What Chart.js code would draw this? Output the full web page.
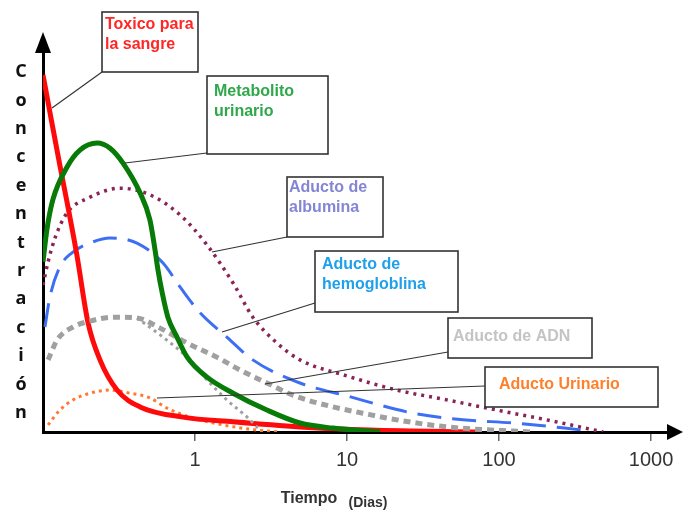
<!DOCTYPE html>
<html>
<head>
<meta charset="utf-8">
<script src="https://cdn.jsdelivr.net/npm/chart.js@4"></script>
<style>
html, body { margin: 0; padding: 0; background: #fff; }
</style>
</head>
<body>
<canvas id="curvasChart" width="683" height="512"></canvas>
<script>
// eje X logaritmico (dias)
var tickDias = [1, 10, 100, 1000];

// Toxico para la sangre
var toxicoX = [0.1, 0.111, 0.129, 0.146, 0.167, 0.198, 0.237, 0.307, 0.435, 0.833, 1.78, 4.9, 14.1, 75];
var toxicoY = [91.1, 81.6, 68.1, 57.4, 45.2, 27.8, 18.4, 10.7, 6.4, 3.8, 2.6, 1.3, 0.5, 0];

// Metabolito urinario
var metabolitoX = [0.1, 0.106, 0.116, 0.144, 0.175, 0.227, 0.276, 0.336, 0.435, 0.505, 0.546, 0.571, 0.607, 0.663, 0.761, 0.888, 1.20, 1.78, 2.97, 4.9, 8.08, 16.5];
var metabolitoY = [43.4, 51.5, 59.2, 67.6, 71.9, 73.7, 72.4, 68.6, 61.0, 54.1, 46.4, 41.3, 35.7, 29.3, 24.2, 19.1, 14.0, 9.9, 5.6, 2.3, 1.0, 0];

// Aducto de albumina
var albuminaX = [0.1, 0.108, 0.12, 0.144, 0.204, 0.321, 0.505, 0.797, 1.20, 1.78, 2.40, 3.46, 4.9, 10, 21.3, 45.3, 96.6, 206, 485];
var albuminaY = [37.5, 43.4, 49.5, 55.9, 59.9, 62.2, 60.5, 55.4, 47.7, 38.0, 29.3, 22.7, 18.4, 14.3, 10.7, 8.2, 5.6, 3.1, 0];

// Aducto de hemoglobina
var hemoX = [0.103, 0.111, 0.129, 0.155, 0.213, 0.276, 0.415, 0.616, 0.797, 1.08, 1.62, 2.40, 4.9, 10, 27.2, 58, 124, 395];
var hemoY = [26.8, 34.4, 42.1, 45.7, 48.5, 49.5, 48.2, 43.1, 37.0, 30.4, 24.2, 18.4, 12.5, 9.2, 4.8, 3.1, 2.3, 0.3];

// Aducto de ADN (dos trazos grises)
var adnX = [0.108, 0.124, 0.158, 0.204, 0.289, 0.415, 0.589, 0.888, 1.39, 1.98, 2.97, 4.40, 8.08, 12.7, 21.3, 45.3, 160];
var adnY = [18.4, 23.5, 26.8, 28.3, 29.3, 29.1, 26.5, 22.7, 19.1, 15.8, 12.5, 9.4, 6.4, 4.8, 3.1, 1.3, 0];
var adn2X = [0.415, 0.616, 0.927, 1.20, 1.62, 2.20, 2.68];
var adn2Y = [29.1, 24.2, 18.4, 13.3, 8.2, 3.8, 0.5];

// Aducto urinario
var urinarioX = [0.108, 0.129, 0.158, 0.204, 0.276, 0.373, 0.505, 0.654, 0.927, 1.53, 2.55, 3.63];
var urinarioY = [1.8, 5.6, 8.2, 9.9, 10.7, 9.9, 8.7, 6.1, 3.8, 1.8, 0.5, 0];

function puntos(xs, ys) {
	return xs.map(function (x, i) { return { x: x, y: ys[i] }; });
}

function serie(xs, ys, color, ancho, dash) {
	return {
		data: puntos(xs, ys),
		borderColor: color,
		borderWidth: ancho,
		borderDash: dash || [],
		pointRadius: 0,
		cubicInterpolationMode: 'monotone',
		fill: false
	};
}

// cuadros de texto con su linea de referencia
var notas = [
	{ box: [102, 12, 96, 60], lineas: ['Toxico para', 'la sangre'], color: '#ff2626', tx: 105, ty: [25, 45], desde: [102, 72], hasta: [52, 108] },
	{ box: [207, 76, 121, 78], lineas: ['Metabolito', 'urinario'], color: '#2ea84a', tx: 214, ty: [92, 112], desde: [207, 153], hasta: [125, 163] },
	{ box: [287, 177, 96, 60], lineas: ['Aducto de', 'albumina'], color: '#8585d6', tx: 289, ty: [188, 208], desde: [287, 237], hasta: [212, 252] },
	{ box: [315, 251, 143, 61], lineas: ['Aducto de', 'hemogloblina'], color: '#1ea0ea', tx: 322, ty: [265, 285], desde: [315, 303], hasta: [222, 332] },
	{ box: [448, 318, 144, 40], lineas: ['Aducto de ADN'], color: '#c4c4c4', tx: 453, ty: [337], desde: [448, 352], hasta: [265, 384] },
	{ box: [485, 367, 173, 40], lineas: ['Aducto Urinario'], color: '#ff7f2a', tx: 499, ty: [385], desde: [485, 386], hasta: [157, 398] }
];

var extras = {
	id: 'extras',
	afterDraw: function (chart) {
		var ctx = chart.ctx;
		var a = chart.chartArea;
		ctx.save();

		// puntas de flecha de los ejes
		ctx.fillStyle = '#000';
		ctx.beginPath();
		ctx.moveTo(a.left, 32);
		ctx.lineTo(a.left - 8, 53);
		ctx.lineTo(a.left + 8, 53);
		ctx.closePath();
		ctx.fill();
		ctx.fillRect(a.right - 2, a.bottom - 1.5, 670 - a.right + 2, 3);
		ctx.beginPath();
		ctx.moveTo(683, a.bottom);
		ctx.lineTo(667, a.bottom - 8);
		ctx.lineTo(667, a.bottom + 8);
		ctx.closePath();
		ctx.fill();

		// titulo vertical, letra por letra
		ctx.fillStyle = '#111';
		ctx.font = 'bold 18px "Open Sans"';
		ctx.textAlign = 'center';
		ctx.textBaseline = 'middle';
		'Concentración'.split('').forEach(function (c, i) {
			ctx.fillText(c, 21, 72 + i * 28.4);
		});

		// titulo del eje X
		ctx.fillStyle = '#333';
		ctx.font = 'bold 16px "Liberation Sans"';
		ctx.fillText('Tiempo', 309, 499);
		ctx.font = 'bold 14px "Liberation Sans"';
		ctx.fillText('(Dias)', 368, 503);

		// cuadros
		notas.forEach(function (n) {
			ctx.strokeStyle = '#333';
			ctx.lineWidth = 1.2;
			ctx.beginPath();
			ctx.moveTo(n.desde[0], n.desde[1]);
			ctx.lineTo(n.hasta[0], n.hasta[1]);
			ctx.stroke();

			ctx.fillStyle = '#fff';
			ctx.fillRect(n.box[0], n.box[1], n.box[2], n.box[3]);
			ctx.lineWidth = 1.6;
			ctx.strokeRect(n.box[0], n.box[1], n.box[2], n.box[3]);

			ctx.fillStyle = n.color;
			ctx.font = 'bold 16px "Liberation Sans"';
			ctx.textAlign = 'left';
			ctx.textBaseline = 'middle';
			n.lineas.forEach(function (t, i) {
				ctx.fillText(t, n.tx, n.ty[i]);
			});
		});
		ctx.restore();
	}
};

var ctx = document.getElementById('curvasChart').getContext('2d');

var curvasChart = new Chart(ctx, {
	type: 'line',
	data: {
		datasets: [
			serie(metabolitoX, metabolitoY, '#077a07', 5),
			serie(adnX, adnY, '#a0a0a0', 5, [7, 5]),
			serie(adn2X, adn2Y, '#a0a0a0', 3, [3, 4]),
			serie(toxicoX, toxicoY, '#ff0a0a', 5),
			serie(urinarioX, urinarioY, '#ff7a30', 3, [3, 4]),
			serie(hemoX, hemoY, '#3d6ff5', 3, [24, 11]),
			serie(albuminaX, albuminaY, '#8a2457', 3.5, [3, 5])
		]
	},
	options: {
		responsive: false,
		animation: false,
		layout: { padding: { left: 43, right: 11, top: 40, bottom: 0 } },
		plugins: {
			legend: { display: false },
			tooltip: { enabled: false }
		},
		scales: {
			x: {
				type: 'logarithmic',
				min: 0.1,
				max: 1374,
				afterBuildTicks: function (scale) {
					scale.ticks = tickDias.map(function (v) { return { value: v }; });
				},
				afterFit: function (scale) { scale.height = 80; },
				ticks: {
					autoSkip: false,
					maxRotation: 0,
					padding: 7,
					color: '#333',
					font: { size: 20, family: 'Liberation Sans' },
					callback: function (v) { return String(v); }
				},
				grid: { drawOnChartArea: false, drawTicks: true, tickLength: 9, color: '#666', lineWidth: 1.5 },
				border: { display: true, color: '#000', width: 3 }
			},
			y: {
				min: 0,
				max: 100,
				afterFit: function (scale) { scale.width = 0; },
				ticks: { display: false },
				grid: { display: false },
				border: { display: true, color: '#000', width: 3 }
			}
		}
	},
	plugins: [extras]
});
</script>
</body>
</html>
